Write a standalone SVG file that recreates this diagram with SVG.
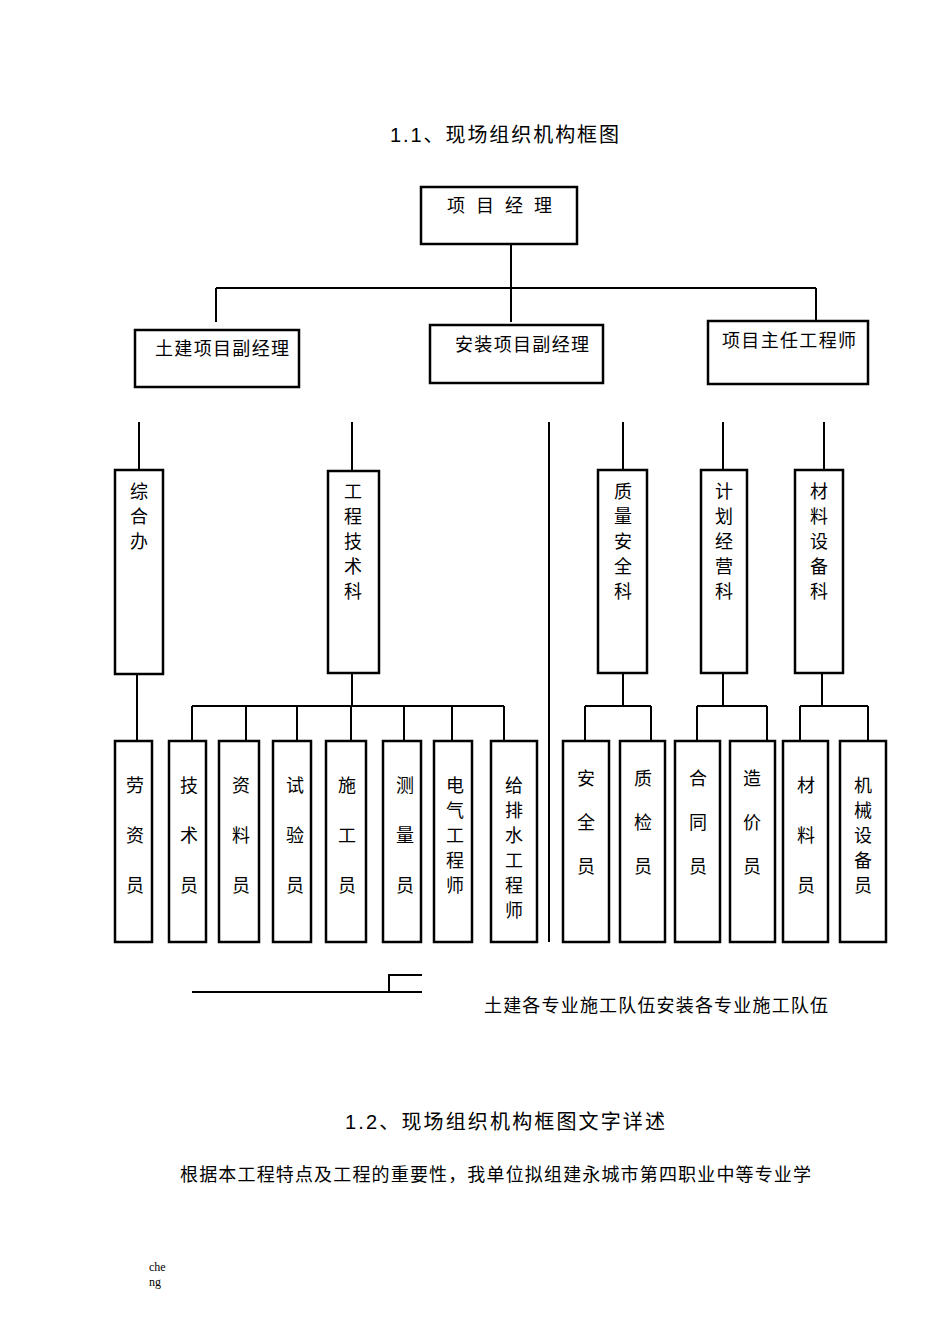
<svg xmlns="http://www.w3.org/2000/svg" width="950" height="1344" viewBox="0 0 950 1344">
<style>
.b{fill:none;stroke:#000;stroke-width:2.5}
.l{fill:none;stroke:#000;stroke-width:2}
text{font-family:"Liberation Serif","Noto Sans CJK SC",serif;font-size:18px;fill:#000}
.v{text-anchor:middle}
.h{font-family:"Liberation Sans","Noto Sans CJK SC",sans-serif;font-size:20px}
</style>
<rect width="950" height="1344" fill="#fff"/>
<text class="h" x="390" y="142" textLength="229">1.1、现场组织机构框图</text>
<g id="connectors">
<path class="l" d="M511 244V322M216 288H816M216 288V322M816 288V322"/>
<path class="l" d="M139 422V470M352 422V471M549 422V942M623 422V470M723 422V470M824 422V470"/>
<path class="l" d="M137 674V741M352 673V706M192 706H504M192 706V741M246 706V741M297 706V741M351 706V741M404 706V741M452 706V741M504 706V741"/>
<path class="l" d="M623 673V706M585 706H651M585 706V741M651 706V741"/>
<path class="l" d="M723 673V706M697 706H767M697 706V741M767 706V741"/>
<path class="l" d="M822 673V706M800 706H868M800 706V741M868 706V741"/>
<path class="l" d="M192 992H422M389 992V975H422"/>
</g>
<g id="n0"><rect class="b" x="421" y="187" width="156" height="57"/><text x="447" y="212" textLength="105">项 目 经 理</text></g>
<g id="n1"><rect class="b" x="135" y="330" width="164" height="57"/><text x="155" y="355" textLength="134">土建项目副经理</text></g>
<g id="n2"><rect class="b" x="430" y="325" width="173" height="58"/><text x="455" y="351" textLength="134">安装项目副经理</text></g>
<g id="n3"><rect class="b" x="708" y="321" width="160" height="63"/><text x="722" y="347" textLength="134">项目主任工程师</text></g>
<g id="n4"><rect class="b" x="115" y="470" width="48" height="204"/><text class="v" x="139" y="498">综</text><text class="v" x="139" y="523">合</text><text class="v" x="139" y="548">办</text></g>
<g id="n5"><rect class="b" x="328" y="471" width="51" height="202"/><text class="v" x="353" y="498">工</text><text class="v" x="353" y="523">程</text><text class="v" x="353" y="548">技</text><text class="v" x="353" y="573">术</text><text class="v" x="353" y="598">科</text></g>
<g id="n6"><rect class="b" x="598" y="470" width="49" height="203"/><text class="v" x="623" y="498">质</text><text class="v" x="623" y="523">量</text><text class="v" x="623" y="548">安</text><text class="v" x="623" y="573">全</text><text class="v" x="623" y="598">科</text></g>
<g id="n7"><rect class="b" x="701" y="470" width="46" height="203"/><text class="v" x="724" y="498">计</text><text class="v" x="724" y="523">划</text><text class="v" x="724" y="548">经</text><text class="v" x="724" y="573">营</text><text class="v" x="724" y="598">科</text></g>
<g id="n8"><rect class="b" x="795" y="470" width="48" height="203"/><text class="v" x="819" y="498">材</text><text class="v" x="819" y="523">料</text><text class="v" x="819" y="548">设</text><text class="v" x="819" y="573">备</text><text class="v" x="819" y="598">科</text></g>
<g id="m1"><rect class="b" x="115" y="741" width="37" height="201"/><text class="v" x="135" y="792">劳</text><text class="v" x="135" y="842">资</text><text class="v" x="135" y="892">员</text></g>
<g id="m2"><rect class="b" x="169" y="741" width="37" height="201"/><text class="v" x="189" y="792">技</text><text class="v" x="189" y="842">术</text><text class="v" x="189" y="892">员</text></g>
<g id="m3"><rect class="b" x="219" y="741" width="40" height="201"/><text class="v" x="241" y="792">资</text><text class="v" x="241" y="842">料</text><text class="v" x="241" y="892">员</text></g>
<g id="m4"><rect class="b" x="273" y="741" width="38" height="201"/><text class="v" x="295" y="792">试</text><text class="v" x="295" y="842">验</text><text class="v" x="295" y="892">员</text></g>
<g id="m5"><rect class="b" x="326" y="741" width="40" height="201"/><text class="v" x="347" y="792">施</text><text class="v" x="347" y="842">工</text><text class="v" x="347" y="892">员</text></g>
<g id="m6"><rect class="b" x="383" y="741" width="38" height="201"/><text class="v" x="405" y="792">测</text><text class="v" x="405" y="842">量</text><text class="v" x="405" y="892">员</text></g>
<g id="m7"><rect class="b" x="434" y="741" width="38" height="201"/><text class="v" x="455" y="792">电</text><text class="v" x="455" y="817">气</text><text class="v" x="455" y="842">工</text><text class="v" x="455" y="867">程</text><text class="v" x="455" y="892">师</text></g>
<g id="m8"><rect class="b" x="491" y="741" width="46" height="201"/><text class="v" x="514" y="792">给</text><text class="v" x="514" y="817">排</text><text class="v" x="514" y="842">水</text><text class="v" x="514" y="867">工</text><text class="v" x="514" y="892">程</text><text class="v" x="514" y="917">师</text></g>
<g id="m9"><rect class="b" x="563" y="741" width="46" height="201"/><text class="v" x="586" y="785">安</text><text class="v" x="586" y="829">全</text><text class="v" x="586" y="873">员</text></g>
<g id="m10"><rect class="b" x="620" y="741" width="45" height="201"/><text class="v" x="643" y="785">质</text><text class="v" x="643" y="829">检</text><text class="v" x="643" y="873">员</text></g>
<g id="m11"><rect class="b" x="675" y="741" width="45" height="201"/><text class="v" x="698" y="785">合</text><text class="v" x="698" y="829">同</text><text class="v" x="698" y="873">员</text></g>
<g id="m12"><rect class="b" x="730" y="741" width="45" height="201"/><text class="v" x="752" y="785">造</text><text class="v" x="752" y="829">价</text><text class="v" x="752" y="873">员</text></g>
<g id="m13"><rect class="b" x="783" y="741" width="45" height="201"/><text class="v" x="806" y="792">材</text><text class="v" x="806" y="842">料</text><text class="v" x="806" y="892">员</text></g>
<g id="m14"><rect class="b" x="840" y="741" width="46" height="201"/><text class="v" x="863" y="792">机</text><text class="v" x="863" y="817">械</text><text class="v" x="863" y="842">设</text><text class="v" x="863" y="867">备</text><text class="v" x="863" y="892">员</text></g>
<text x="484" y="1012" textLength="344">土建各专业施工队伍安装各专业施工队伍</text>
<text class="h" x="345" y="1129" textLength="320">1.2、现场组织机构框图文字详述</text>
<text x="180" y="1181" textLength="631">根据本工程特点及工程的重要性，我单位拟组建永城市第四职业中等专业学</text>
<text x="149" y="1271" style="font-size:12px">che</text>
<text x="149" y="1286" style="font-size:12px">ng</text>
</svg>
